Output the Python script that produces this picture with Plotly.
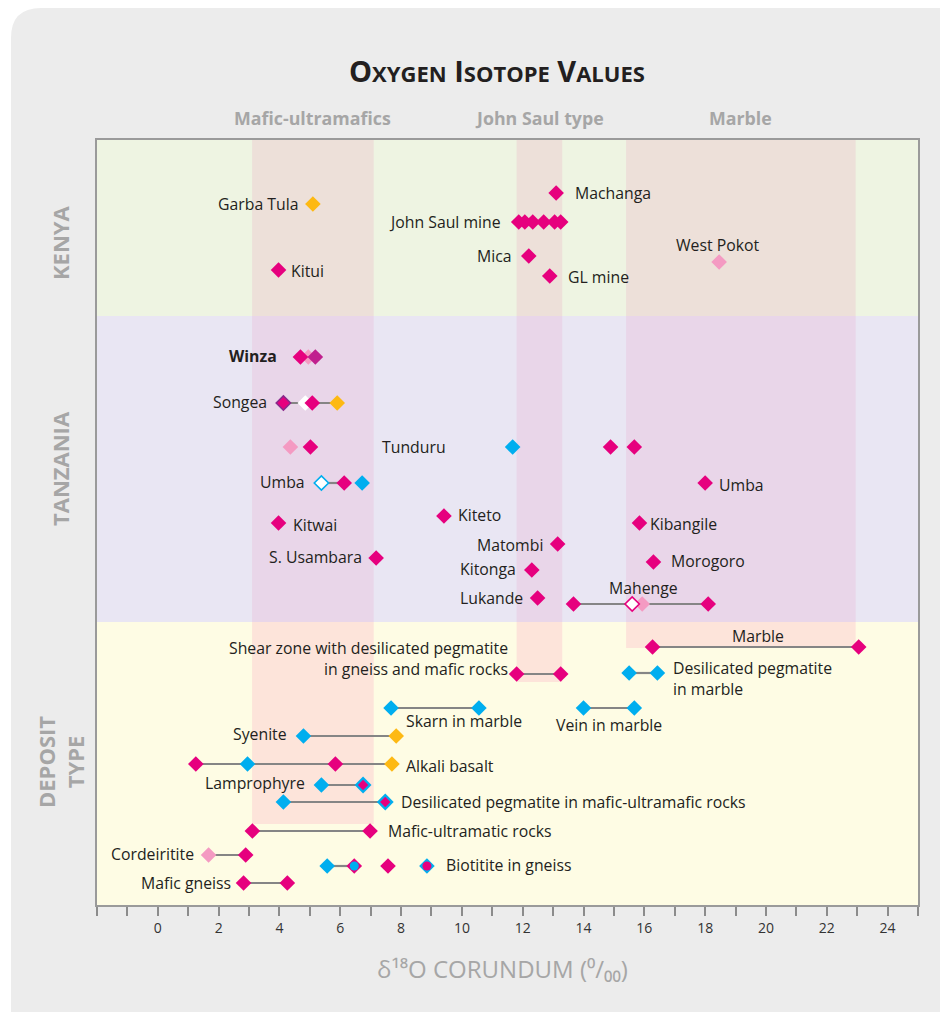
import plotly.graph_objects as go

# ---------------- data ----------------
# rows: y is the row position (0 = top of plot area, 76.5 = bottom)
row_y = [
    6.4, 5.3, 8.2, 11.6, 13.6, 12.2, 13.0,                        # Kenya
    21.7, 26.3, 30.7, 30.7, 34.3, 34.3, 38.3, 37.6, 41.8, 40.4,   # Tanzania
    43.0, 45.8, 38.3, 42.2, 46.4,
    50.7, 53.4, 53.3, 56.8, 56.8, 59.6, 62.4, 64.5, 66.2, 69.1,   # Deposit type
    71.5, 72.6, 74.3,
]
row_values = [
    [5.1], [13.1], [11.87, 12.07, 12.33, 12.69, 13.05, 13.25], [12.2], [12.89], [18.46], [3.97],
    [4.95, 4.69, 5.18], [4.13, 4.85, 5.08, 5.9], [4.36, 5.02], [11.67, 14.89, 15.67],
    [5.38, 6.13, 6.72], [18.0], [3.97], [9.41], [7.18], [13.15],
    [12.3], [12.49], [15.84], [16.3], [13.67, 15.93, 15.6, 18.1],
    [16.27, 23.05], [11.8, 13.25], [15.5, 16.43], [7.67, 10.56], [14.0, 15.67],
    [4.79, 7.84], [1.25, 2.95, 5.84, 7.7], [5.38, 6.75], [4.13, 7.48], [3.11, 6.98],
    [1.67, 2.89], [5.57, 6.46, 7.57, 8.85], [2.82, 4.26],
]
row_kinds = [
    ["y"], ["m"], ["m"] * 6, ["m"], ["m"], ["p"], ["m"],
    ["p", "m", "v"], ["vm", "w", "m", "y"], ["p", "m"], ["b", "m", "m"],
    ["wb", "m", "b"], ["m"], ["m"], ["m"], ["m"], ["m"],
    ["m"], ["m"], ["m"], ["m"], ["m", "p", "wm", "m"],
    ["m", "m"], ["m", "m"], ["b", "b"], ["b", "b"], ["b", "b"],
    ["b", "y"], ["m", "b", "m", "y"], ["b", "bm"], ["b", "bm"], ["m", "m"],
    ["p", "m"], ["b", "mbc", "m", "bmc"], ["m", "m"],
]
row_links = [
    None, None, None, None, None, None, None,
    None, (4.13, 5.9), None, None,
    (5.38, 6.13), None, None, None, None, None,
    None, None, None, None, (13.67, 18.1),
    (16.27, 23.05), (11.8, 13.25), (15.5, 16.43), (7.67, 10.56), (14.0, 15.67),
    (4.79, 7.84), (1.25, 7.7), (5.38, 6.75), (4.13, 7.48), (3.11, 6.98),
    (1.67, 2.89), (5.57, 6.46), (2.82, 4.26),
]

label_text = [
    "Garba Tula", "Machanga", "John Saul mine", "Mica", "GL mine", "West Pokot", "Kitui",
    "<b>Winza</b>", "Songea", "Tunduru", "Umba", "Umba", "Kitwai", "Kiteto", "S. Usambara",
    "Matombi", "Kitonga", "Lukande", "Kibangile", "Morogoro", "Mahenge",
    "Marble", "Shear zone with desilicated pegmatite<br>in gneiss and mafic rocks",
    "Desilicated pegmatite<br>in marble", "Skarn in marble", "Vein in marble", "Syenite",
    "Alkali basalt", "Lamprophyre", "Desilicated pegmatite in mafic-ultramafic rocks",
    "Mafic-ultramatic rocks", "Cordeiritite", "Biotitite in gneiss", "Mafic gneiss",
]
label_x = [
    4.66, 13.64, 11.34, 11.7, 13.41, 18.43, 4.33,
    3.97, 3.67, 8.44, 4.92, 18.39, 4.39, 9.8, 6.79,
    12.72, 11.84, 12.07, 16.13, 16.82, 15.97,
    19.74, 11.57, 16.89, 10.07, 14.85, 4.33,
    8.1, 4.92, 7.93, 7.51, 1.25, 9.41, 2.46,
]
label_y = [
    6.4, 5.3, 8.2, 11.6, 13.7, 10.5, 13.1,
    21.6, 26.2, 30.7, 34.2, 34.5, 38.5, 37.5, 41.7,
    40.5, 42.9, 45.8, 38.4, 42.1, 44.8,
    49.6, 51.85, 53.85, 58.1, 58.5, 59.4,
    62.6, 64.3, 66.2, 69.1, 71.4, 72.5, 74.3,
]
label_anchor = [
    "right", "left", "right", "right", "left", "center", "left",
    "right", "right", "center", "right", "left", "left", "left", "right",
    "right", "right", "right", "left", "left", "center",
    "center", "right", "left", "center", "center", "right",
    "left", "right", "left", "left", "right", "left", "right",
]

region_names = ["KENYA", "TANZANIA", "DEPOSIT<br>TYPE"]
region_bounds = [(0.0, 17.6), (17.6, 48.2), (48.2, 76.5)]
region_bg = ["#EEF4E2", "#E9E6F3", "#FEFCE4"]
region_band = ["#EDE0D9", "#E9D6E9", "#FDE4DA"]

band_names = ["Mafic-ultramafics", "John Saul type", "Marble"]
band_x = [(3.1, 7.1), (11.8, 13.3), (15.4, 22.95)]
band_bottom = [68.4, 54.2, 50.8]

x_ticks = list(range(-2, 26))
x_tick_labels = [str(v) if (v >= 0 and v % 2 == 0) else "" for v in x_ticks]

# ---------------- style ----------------
MAG, BLUE, YEL, PINK, VIO, VIO_D = "#E6007E", "#00AEEF", "#FDB913", "#F49AC2", "#C0208E", "#8A2A8C"
LINE = "#858585"
TXT = "#231F20"
GREY_T = "#A6A6A6"
FONT = "Open Sans"
NARROW = "Open Sans"

OFF = 8                      # page body offset in the screenshot
W, H = 940, 1004
L, T = 97 - OFF, 140 - OFF
PW, PH = 821, 765
R, B = W - L - PW, H - T - PH


def px_x(sx):
    return (sx - OFF - L) / PW


def px_y(sy):
    return (T + PH - (sy - OFF)) / PH


fig = go.Figure()

# grey panel with rounded top-left corner
x0, y0, rr = px_x(11), px_y(8), 30
x1, y1 = px_x(W + 20), px_y(H + 20)
path = (f"M {x0},{y1} L {x0},{px_y(8 + rr)} Q {x0},{y0} {px_x(11 + rr)},{y0} "
        f"L {x1},{y0} L {x1},{y1} Z")
fig.add_shape(type="path", path=path, xref="paper", yref="paper",
              fillcolor="#ECECEC", line_width=0, layer="below")

# region backgrounds and bands
for (ya, yb), bg, bandc in zip(region_bounds, region_bg, region_band):
    fig.add_shape(type="rect", xref="x", yref="y", x0=-2, x1=25, y0=ya, y1=yb,
                  fillcolor=bg, line_width=0, layer="below")
    for (bx0, bx1), bb in zip(band_x, band_bottom):
        top, bot = ya, min(yb, bb)
        if bot > top:
            fig.add_shape(type="rect", xref="x", yref="y", x0=bx0, x1=bx1, y0=top, y1=bot,
                          fillcolor=bandc, line_width=0, layer="below")

# connecting lines
lx, ly = [], []
for y, link in zip(row_y, row_links):
    if link:
        lx += [link[0], link[1], None]
        ly += [y, y, None]
fig.add_trace(go.Scatter(x=lx, y=ly, mode="lines", line=dict(color=LINE, width=2.2),
                         hoverinfo="skip", showlegend=False))

# markers, grouped by kind; drawn in a fixed order
DS = 12
layers = [
    ("p", [dict(symbol="diamond", size=DS, color=PINK)]),
    ("w", [dict(symbol="diamond", size=DS, color="white")]),
    ("wb", [dict(symbol="diamond", size=DS - 1, color="white", line=dict(color=BLUE, width=1.6))]),
    ("wm", [dict(symbol="diamond", size=DS - 1, color="white", line=dict(color=MAG, width=1.6))]),
    ("b", [dict(symbol="diamond", size=DS, color=BLUE)]),
    ("y", [dict(symbol="diamond", size=DS, color=YEL)]),
    ("m", [dict(symbol="diamond", size=DS, color=MAG)]),
    ("v", [dict(symbol="diamond", size=DS, color=VIO)]),
    ("vm", [dict(symbol="diamond", size=DS - 1, color=MAG, line=dict(color=VIO_D, width=1.6))]),
    ("bm", [dict(symbol="diamond", size=DS + 1, color=BLUE),
            dict(symbol="diamond", size=DS - 4, color=MAG)]),
    ("mbc", [dict(symbol="diamond", size=DS, color=MAG),
             dict(symbol="circle", size=DS - 3, color=BLUE)]),
    ("bmc", [dict(symbol="diamond", size=DS, color=BLUE),
             dict(symbol="circle", size=DS - 3, color=MAG)]),
]
for kind, markers in layers:
    xs, ys = [], []
    for y, vals, kinds in zip(row_y, row_values, row_kinds):
        for v, k in zip(vals, kinds):
            if k == kind:
                xs.append(v)
                ys.append(y)
    if not xs:
        continue
    for mk in markers:
        m = dict(mk)
        if "line" not in m:
            m["line"] = dict(width=0)
        fig.add_trace(go.Scatter(x=xs, y=ys, mode="markers", marker=m,
                                 hoverinfo="skip", showlegend=False))

# point labels
for t, x, y, a in zip(label_text, label_x, label_y, label_anchor):
    fig.add_annotation(x=x, y=y, xref="x", yref="y", text=t, showarrow=False,
                       xanchor=a, yanchor="middle", align=a,
                       font=dict(family=FONT, size=15.8, color=TXT))

# band headers
for name, (bx0, bx1) in zip(band_names, band_x):
    fig.add_annotation(x=(bx0 + bx1) / 2, y=px_y(118), xref="x", yref="paper",
                       text=f"<b>{name}</b>", showarrow=False, xanchor="center", yanchor="middle",
                       font=dict(family=NARROW, size=17.8, color=GREY_T))

# region labels (rotated)
region_label_y = [243, 469, 762]
for name, py in zip(region_names, region_label_y):
    fig.add_annotation(x=px_x(60), y=px_y(py), xref="paper", yref="paper",
                       text=f"<b>{name}</b>", showarrow=False, textangle=-90,
                       xanchor="center", yanchor="middle", align="center",
                       font=dict(family=NARROW, size=22, color=GREY_T))

# title (small caps)
sm = "<span style='font-size:22px'>"
title = f"<b>O{sm}XYGEN</span> I{sm}SOTOPE</span> V{sm}ALUES</span></b>"
fig.add_annotation(x=px_x(497), y=px_y(70), xref="paper", yref="paper", text=title,
                   showarrow=False, xanchor="center", yanchor="middle",
                   font=dict(family=NARROW, size=29, color=TXT))

# x-axis title
fig.add_annotation(x=px_x(502), y=px_y(968), xref="paper", yref="paper",
                   text="δ¹⁸O CORUNDUM (⁰/₀₀)",
                   showarrow=False, xanchor="center", yanchor="middle",
                   font=dict(family=NARROW, size=24, color=GREY_T))

fig.update_xaxes(range=[-2, 25], tickvals=x_ticks, ticktext=x_tick_labels,
                 ticks="outside", ticklen=9, tickwidth=1.5, tickcolor="#8C8C8C",
                 showgrid=False, zeroline=False, showline=True, linecolor="#9A9A9A",
                 linewidth=2, mirror=True,
                 tickfont=dict(family=NARROW, size=14, color="#333333"))
fig.update_yaxes(range=[76.5, 0], showticklabels=False, ticks="", showgrid=False,
                 zeroline=False, showline=True, linecolor="#9A9A9A", linewidth=2, mirror=True)

fig.update_layout(width=W, height=H, margin=dict(l=L, r=R, t=T, b=B),
                  paper_bgcolor="white", plot_bgcolor="#FEFCE4", showlegend=False)

fig.write_html("out.html")
